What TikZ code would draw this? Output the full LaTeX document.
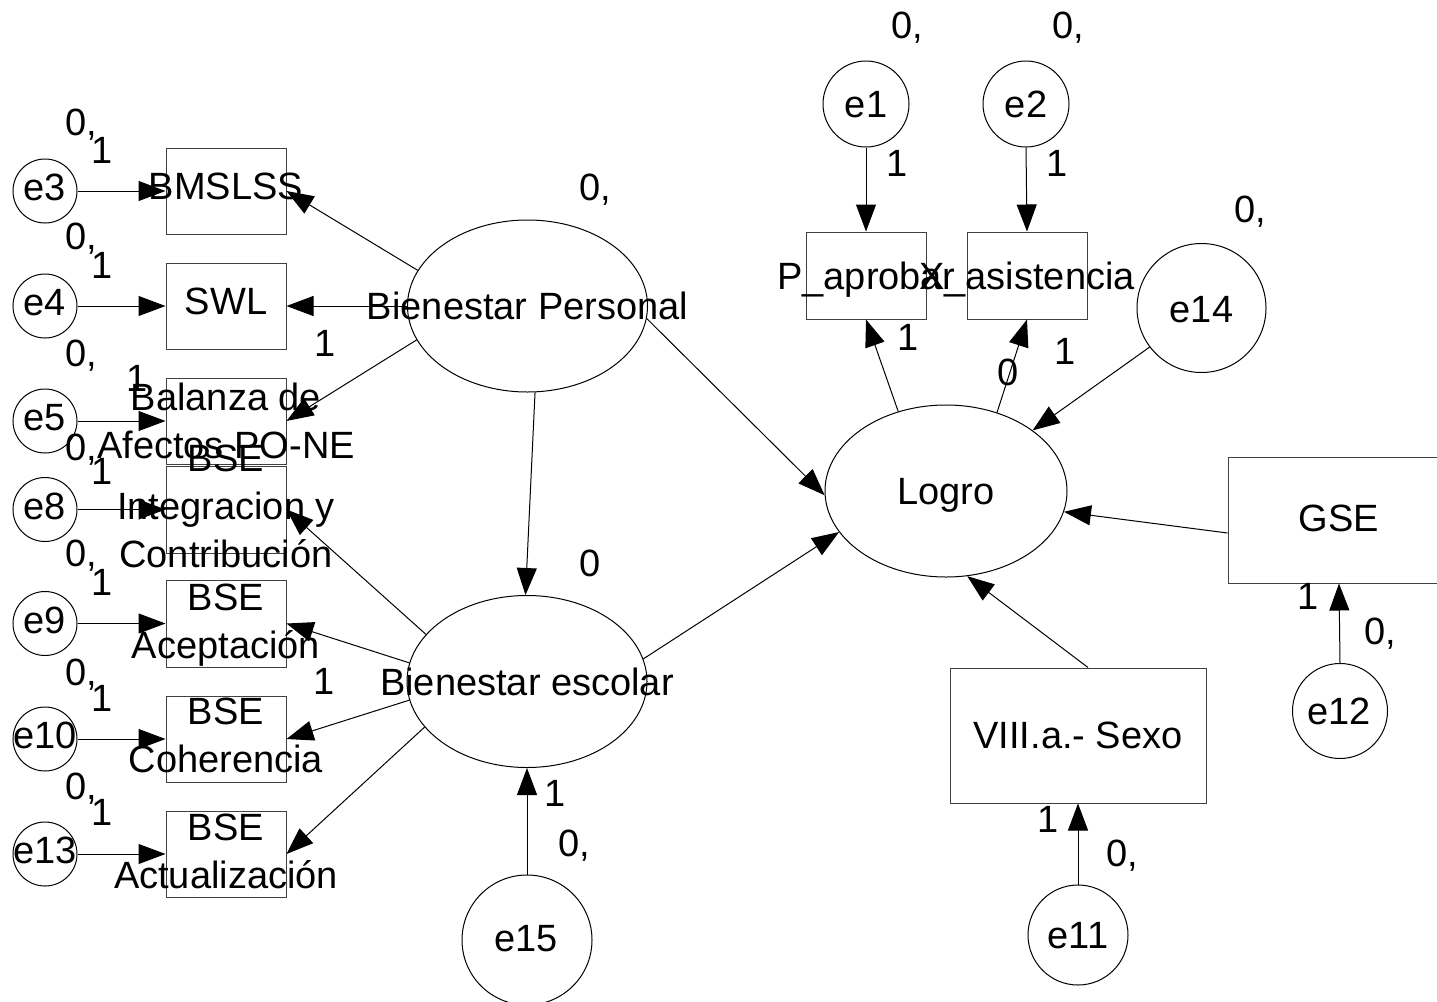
\documentclass[tikz,border=0pt]{standalone}
\usepackage{fontspec}
\setmainfont{Liberation Sans}
\usetikzlibrary{shapes.geometric,arrows.meta}
\newcommand{\semfont}{\fontsize{38pt}{48pt}\selectfont}
\begin{document}
\begin{tikzpicture}[x=1pt,y=-1pt,line width=1pt,
  tx/.style={font=\semfont,inner sep=0pt,text height=27pt,text depth=0pt},
  txm/.style={font=\semfont,inner sep=0pt,align=center},
  obs/.style={draw=black!75,rectangle,inner sep=0pt,minimum width=120pt,minimum height=86pt},
  lat/.style={draw,ellipse,inner sep=0pt,minimum width=240pt,minimum height=172pt},
  err/.style={draw,circle,inner sep=0pt},
  arr/.style={-{Triangle[length=27pt,width=20pt]}}]
\useasboundingbox (0,0) rectangle (1437,1001);
\clip (0,0) rectangle (1437,1001);

% latent variables
\node[lat] (bp) at (527.5,306) {};
\node[tx] (bpt) at (bp) {Bienestar Personal};
\node[lat] (be) at (527,681.5) {};
\node[tx] (bet) at (be) {Bienestar escolar};
\node[lat,minimum width=242pt] (logro) at (946,491) {};
\node[tx] (logrot) at (logro) {Logro};

% observed indicators, left column
\node[obs] (bmslss) at (226,191) {};
\node[tx] (bmslsst) at (226,186) {BMSLSS};
\node[obs] (swl) at (226,306) {};
\node[tx] (swlt) at (226,301) {SWL};
\node[obs] (bal) at (226,421) {};
\node[txm] (balt) at (226,421) {Balanza de\\Afectos PO-NE};
\node[obs,minimum height=87pt] (integ) at (226,509.5) {};
\node[txm] (integt) at (226,506) {BSE\\Integracion y\\Contribución};
\node[obs,minimum height=87pt] (acep) at (226,623.5) {};
\node[txm] (acept) at (226,625) {BSE\\Aceptación};
\node[obs] (coher) at (226,739) {};
\node[txm] (chert) at (226,735.5) {BSE\\Coherencia};
\node[obs] (actual) at (226,854) {};
\node[txm] (actualt) at (226,851.5) {BSE\\Actualización};

% observed outcomes and covariates
\node[obs,minimum height=87pt] (pap) at (866,275.5) {};
\node[tx] (papt) at (866,276) {P\_aprobar};
\node[obs,minimum height=87pt] (xas) at (1027,275.5) {};
\node[tx] (xast) at (1027,276) {X\_asistencia};
\node[obs,minimum width=222pt,minimum height=126pt] (gse) at (1339,520) {};
\node[tx] (gset) at (1339,517.5) {GSE};
\node[obs,minimum width=256pt,minimum height=135pt] (sexo) at (1078,735.5) {};
\node[tx] (sexot) at (1078,734.5) {VIII.a.- Sexo};

% error terms
\node[err,minimum size=64pt] (e3) at (45,191) {};
\node[tx] (e3t) at (45,187) {e3};
\node[err,minimum size=64pt] (e4) at (45,306) {};
\node[tx] (e4t) at (45,302) {e4};
\node[err,minimum size=64pt] (e5) at (45,421) {};
\node[tx] (e5t) at (45,417) {e5};
\node[err,minimum size=64pt] (e8) at (45,509.5) {};
\node[tx] (e8t) at (45,505.5) {e8};
\node[err,minimum size=64pt] (e9) at (45,623.5) {};
\node[tx] (e9t) at (45,619.5) {e9};
\node[err,minimum size=64pt] (e10) at (45,739) {};
\node[tx] (e10t) at (45,735) {e10};
\node[err,minimum size=64pt] (e13) at (45,854) {};
\node[tx] (e13t) at (45,850) {e13};
\node[err,minimum size=86pt] (e1) at (866,104) {};
\node[tx] (e1t) at (866,103.5) {e1};
\node[err,minimum size=86pt] (e2) at (1026,104) {};
\node[tx] (e2t) at (1026,103.5) {e2};
\node[err,minimum size=129pt] (e14) at (1201.5,308) {};
\node[tx] (e14t) at (1201.5,308.5) {e14};
\node[err,minimum size=130pt] (e15) at (527,940) {};
\node[tx] (e15t) at (526,938) {e15};
\node[err,minimum size=100pt] (e11) at (1078,935) {};
\node[tx] (e11t) at (1078,935) {e11};
\node[err,minimum size=95pt] (e12) at (1340,711) {};
\node[tx] (e12t) at (1339,711) {e12};

% error paths
\draw[arr] (e3.east) -- (bmslss.west);
\draw[arr] (e4.east) -- (swl.west);
\draw[arr] (e5.east) -- (bal.west);
\draw[arr] (e8.east) -- (integ.west);
\draw[arr] (e9.east) -- (acep.west);
\draw[arr] (e10.east) -- (coher.west);
\draw[arr] (e13.east) -- (actual.west);
\draw[arr] (e1.south) -- (pap.north);
\draw[arr] (e2.south) -- (xas.north);
\draw[arr] (e15.north) -- (be.south);
\draw[arr] (e11.north) -- (sexo.south);
\draw[arr] (e12.north) -- (gse.south);
\draw[arr] (e14.217) -- (logro.35.5);

% loadings of Bienestar Personal
\draw[arr] (bp.162.3) -- (bmslss.east);
\draw[arr] (bp.180) -- (swl.east);
\draw[arr] (bp.197.7) -- (bal.east);
% loadings of Bienestar escolar
\draw[arr] (be.155) -- (integ.east);
\draw[arr] (be.171) -- (acep.east);
\draw[arr] (be.189) -- (coher.east);
\draw[arr] (be.204.5) -- (actual.east);
% loadings of Logro
\draw[arr] (logro.121.8) -- (pap.south);
\draw[arr] (logro.57.2) -- (xas.south);

% structural paths
\draw[arr] (bp.275) -- (be.91.3);
\draw[arr] (bp.354.3) -- (logro.182.8);
\draw[arr] (be.11.7) -- (logro.201);
\draw[arr] ([yshift=-13pt]gse.west) -- (logro.350);
\draw[arr] ([xshift=10pt]sexo.north) -- (logro.284.4);

% parameter labels, left column
\node[tx] (v3) at (81,122) {0,};   \node[tx] (w3) at (102,150) {1};
\node[tx] (v4) at (81,236) {0,};   \node[tx] (w4) at (102,265) {1};
\node[tx] (v5) at (81,353) {0,};   \node[tx] (w5) at (137,378) {1};
\node[tx] (v8) at (81,447) {0,};   \node[tx] (w8) at (102,471) {1};
\node[tx] (v9) at (81,553) {0,};   \node[tx] (w9) at (102,582) {1};
\node[tx] (v10) at (81,672) {0,};  \node[tx] (w10) at (102,698) {1};
\node[tx] (v13) at (81,786) {0,};  \node[tx] (w13) at (102,812) {1};
\node[tx] (wswl) at (325,342.5) {1};
\node[tx] (wcoh) at (324,680.5) {1};

% parameter labels, latent variables
\node[tx] (vbp) at (595,186.5) {0,};
\node[tx] (vbe) at (590,562.5) {0};
\node[tx] (we15) at (555,792.5) {1};
\node[tx] (ve15) at (574,842.5) {0,};

% parameter labels, right side
\node[tx] (v1) at (907,24.5) {0,};
\node[tx] (v2) at (1068,24.5) {0,};
\node[tx] (w1) at (897,162.5) {1};
\node[tx] (w2) at (1057,162.5) {1};
\node[tx] (wpap) at (908,336.5) {1};
\node[tx] (vxas) at (1008,371.5) {0};
\node[tx] (wxas) at (1065,351) {1};
\node[tx] (v14) at (1250,208.5) {0,};
\node[tx] (w12) at (1308,596) {1};
\node[tx] (v12) at (1380,631) {0,};
\node[tx] (w11) at (1048,818.5) {1};
\node[tx] (v11) at (1122,853) {0,};
\end{tikzpicture}
\end{document}
